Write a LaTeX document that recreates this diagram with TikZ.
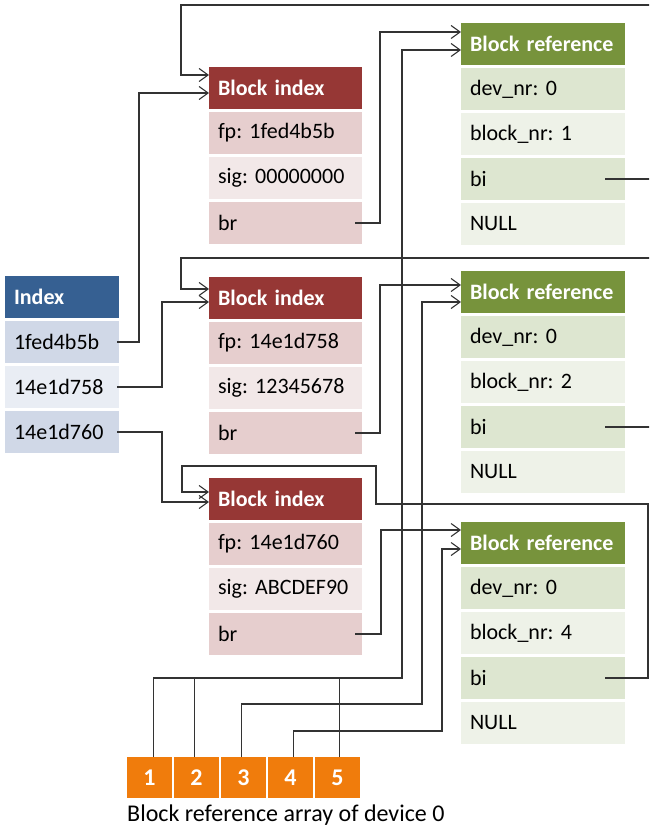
\documentclass[tikz,border=0pt]{standalone}
\usepackage{fontspec}
\setmainfont{Carlito}
\frenchspacing
\usetikzlibrary{arrows.meta,positioning}
\definecolor{idxblue}{RGB}{54,96,146}
\definecolor{idxdark}{RGB}{208,216,231}
\definecolor{idxlight}{RGB}{233,237,244}
\definecolor{bired}{RGB}{150,55,53}
\definecolor{bidark}{RGB}{230,206,206}
\definecolor{bilight}{RGB}{242,232,232}
\definecolor{brgreen}{RGB}{119,147,60}
\definecolor{brdark}{RGB}{221,230,208}
\definecolor{brlight}{RGB}{238,242,232}
\definecolor{slotorange}{RGB}{240,124,12}
\tikzset{
  cell/.style={minimum height=42pt, inner xsep=9pt, inner ysep=0pt, outer sep=0pt, anchor=north west, align=left, font=\fontsize{22}{26}\selectfont},
  idxrow/.style={cell, text width=96pt},
  idxhead/.style={idxrow, fill=idxblue, text=white, font=\fontsize{22}{26}\selectfont\bfseries},
  birow/.style={cell, text width=135pt},
  bihead/.style={birow, fill=bired, text=white, font=\fontsize{22}{26}\selectfont\bfseries},
  brrow/.style={cell, text width=146pt},
  brhead/.style={brrow, fill=brgreen, text=white, font=\fontsize{22}{26}\selectfont\bfseries},
  slot/.style={minimum width=45pt, minimum height=41pt, inner sep=0pt, outer sep=0pt, anchor=north west, fill=slotorange, text=white, font=\fontsize{24}{28}\selectfont\bfseries},
  wire/.style={draw=black!80, line width=1.1pt},
  link/.style={wire, -{Straight Barb[length=9pt,width=13pt]}}
}
\begin{document}
\begin{tikzpicture}[x=1pt, y=-1pt, node distance=3pt]
  \useasboundingbox (0,0) rectangle (649,829);
  \clip (0,0) rectangle (649,829);

  \node[idxhead] (idxH) at (5,276) {Index};
  \node[idxrow, fill=idxdark, below=of idxH] (idx1) {1fed4b5b};
  \node[idxrow, fill=idxlight, below=of idx1] (idx2) {14e1d758};
  \node[idxrow, fill=idxdark, below=of idx2] (idx3) {14e1d760};

  \node[bihead] (biA) at (209,67) {Block index};
  \node[birow, fill=bidark, below=of biA] (biAfp) {fp: 1fed4b5b};
  \node[birow, fill=bilight, below=of biAfp] (biAsig) {sig: 00000000};
  \node[birow, fill=bidark, below=of biAsig] (biAbr) {br};

  \node[bihead] (biB) at (209,277) {Block index};
  \node[birow, fill=bidark, below=of biB] (biBfp) {fp: 14e1d758};
  \node[birow, fill=bilight, below=of biBfp] (biBsig) {sig: 12345678};
  \node[birow, fill=bidark, below=of biBsig] (biBbr) {br};

  \node[bihead] (biC) at (209,478) {Block index};
  \node[birow, fill=bidark, below=of biC] (biCfp) {fp: 14e1d760};
  \node[birow, fill=bilight, below=of biCfp] (biCsig) {sig: ABCDEF90};
  \node[birow, fill=bidark, below=of biCsig] (biCbr) {br};

  \node[brhead] (brA) at (461,23) {Block reference};
  \node[brrow, fill=brdark, below=of brA] (brAdev) {dev\_nr: 0};
  \node[brrow, fill=brlight, below=of brAdev] (brAnr) {block\_nr: 1};
  \node[brrow, fill=brdark, below=of brAnr] (brAbi) {bi};
  \node[brrow, fill=brlight, below=of brAbi] (brAnull) {NULL};

  \node[brhead] (brB) at (461,271) {Block reference};
  \node[brrow, fill=brdark, below=of brB] (brBdev) {dev\_nr: 0};
  \node[brrow, fill=brlight, below=of brBdev] (brBnr) {block\_nr: 2};
  \node[brrow, fill=brdark, below=of brBnr] (brBbi) {bi};
  \node[brrow, fill=brlight, below=of brBbi] (brBnull) {NULL};

  \node[brhead] (brC) at (461,522) {Block reference};
  \node[brrow, fill=brdark, below=of brC] (brCdev) {dev\_nr: 0};
  \node[brrow, fill=brlight, below=of brCdev] (brCnr) {block\_nr: 4};
  \node[brrow, fill=brdark, below=of brCnr] (brCbi) {bi};
  \node[brrow, fill=brlight, below=of brCbi] (brCnull) {NULL};

  \node[slot] (arr1) at (127,757) {1};
  \node[slot, right=2pt of arr1] (arr2) {2};
  \node[slot, right=2pt of arr2] (arr3) {3};
  \node[slot, right=2pt of arr3] (arr4) {4};
  \node[slot, right=2pt of arr4] (arr5) {5};
  \node[anchor=base west, inner sep=0pt, font=\fontsize{24}{28}\selectfont] (arrlabel) at (127,821) {Block reference array of device 0};

  % index -> block index
  \draw[link] ([xshift=-2pt]idx1.east) -| (139,93) -- (biA.west |- 0,93);
  \draw[link] ([xshift=-2pt]idx2.east) -| (162,302) -- (biB.west |- 0,302);
  \draw[link] ([xshift=-2pt]idx3.east) -| (162,502) -- (biC.west |- 0,502);

  % br -> block reference
  \draw[link] ([xshift=-7pt]biAbr.east) -| (380,32) -- (brA.west |- 0,32);
  \draw[link] ([xshift=-7pt]biBbr.east) -| (380,285) -- (brB.west |- 0,285);
  \draw[link] ([xshift=-7pt]biCbr.east) -| (381,530) -- (brC.west |- 0,530);

  % bi -> block index
  \draw[link] ([xshift=-20pt]brAbi.east) -| (662,5) -| (181,75) -- (biA.west |- 0,75);
  \draw[link] ([xshift=-20pt]brBbi.east) -| (662,258) -| (181,289) -- (biB.west |- 0,289);
  \draw[link] ([xshift=-20pt]brCbi.east) -| (648,504) -| (376,466) -| (182,492) -- (biC.west |- 0,492);

  % array -> block reference
  \coordinate (bus) at (402,678);
  \draw[link] ([xshift=4pt]arr1.north) |- (bus) |- (brA.west |- 0,50);
  \draw[wire] ([xshift=-2pt]arr2.north) |- (bus);
  \draw[wire] ([xshift=2pt]arr5.north) |- (bus);
  \draw[link] ([xshift=-2pt]arr3.north) |- (422,704) |- (brB.west |- 0,302);
  \draw[link] ([xshift=3pt]arr4.north) |- (442,731) |- (brC.west |- 0,549);
\end{tikzpicture}
\end{document}
